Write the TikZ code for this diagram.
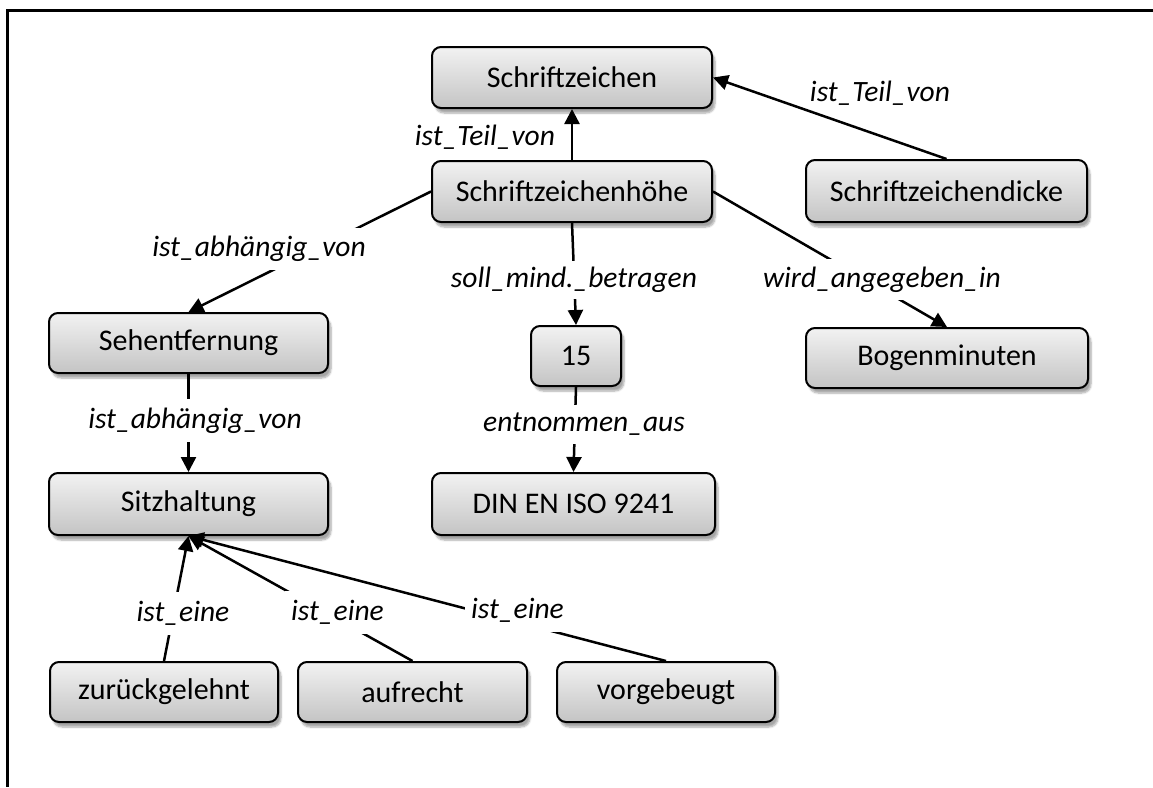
\documentclass[tikz,border=0pt]{standalone}
\usepackage{fontspec}
\setmainfont{Carlito}
\usetikzlibrary{arrows.meta,shadows.blur}
\definecolor{boxtop}{RGB}{242,242,242}
\definecolor{boxbottom}{RGB}{196,196,196}
\begin{document}
\begin{tikzpicture}[x=1pt,y=-1pt,
  concept/.style={draw=black, line width=2pt, rounded corners=9pt,
    top color=boxtop, bottom color=boxbottom,
    blur shadow={shadow xshift=3pt, shadow yshift=-5pt, shadow opacity=35, shadow blur steps=6},
    inner sep=0pt, font=\fontsize{30}{35}\selectfont},
  linkphrase/.style={fill=white, inner sep=0pt, font=\fontsize{29.5}{35}\selectfont\itshape},
  link/.style={line width=2.5pt},
  arr/.style={link, -{Triangle[length=15pt,width=15pt]}}
]
\useasboundingbox (0,0) rectangle (1153,787);

% outer frame (top and left edges only)
\draw[line width=3pt] (1153,10) -- (7,10) -- (7,787);

% concepts
\node[concept, minimum width=280pt, minimum height=61pt] (schrift) at (572,77.5) {Schriftzeichen};
\node[concept, minimum width=280pt, minimum height=61pt] (hoehe) at (572,191.5) {Schriftzeichenhöhe};
\node[concept, minimum width=281pt, minimum height=62pt] (dicke) at (946.5,191) {Schriftzeichendicke};
\node[concept, minimum width=279pt, minimum height=60pt] (sehen) at (188.5,343) {Sehentfernung};
\node[concept, minimum width=90pt, minimum height=60pt] (fuenfzehn) at (576,356) {15};
\node[concept, minimum width=282pt, minimum height=60pt] (bogen) at (947,358) {Bogenminuten};
\node[concept, minimum width=283pt, minimum height=62pt] (din) at (573.5,504) {DIN EN ISO 9241};
\node[concept, minimum width=279pt, minimum height=62pt] (sitz) at (188.5,504) {Sitzhaltung};
\node[concept, minimum width=228pt, minimum height=60pt] (zurueck) at (164,692) {zurückgelehnt};
\node[concept, minimum width=229pt, minimum height=60pt] (auf) at (412.5,692) {aufrecht};
\node[concept, minimum width=218pt, minimum height=60pt] (vor) at (666,692) {vorgebeugt};

% connectors
\draw[arr] (hoehe.north) -- (schrift.south);
\draw[arr] (dicke.north) -- (schrift.east);
\draw[arr] (hoehe.west) -- (sehen.north);
\draw[arr] (hoehe.south) -- (fuenfzehn.north);
\draw[arr] (hoehe.east) -- (bogen.north);
\draw[arr] (fuenfzehn.south) -- (din.north);
\draw[arr] (sehen.south) -- (sitz.north);
\draw[arr] (zurueck.north) -- (sitz.south);
\draw[arr] (auf.north) -- (sitz.south);
\draw[arr] (vor.north) -- (sitz.south);

% linking phrases
\node[linkphrase] (lteilA) at (485,137) {ist\_Teil\_von};
\node[linkphrase] (lteilB) at (880,93) {ist\_Teil\_von};
\node[linkphrase, minimum width=218pt, minimum height=42pt] (labhA) at (259,249) {ist\_abhängig\_von};
\node[linkphrase, minimum width=258pt, minimum height=38pt] (lsoll) at (574,280) {soll\_mind.\_betragen};
\node[linkphrase, minimum width=260pt, minimum height=41pt] (lwird) at (882,279.5) {wird\_angegeben\_in};
\node[linkphrase, minimum width=212pt, minimum height=39pt] (lentn) at (584,424.5) {entnommen\_aus};
\node[linkphrase, minimum width=230pt, minimum height=43pt] (labhB) at (195,420.5) {ist\_abhängig\_von};
\node[linkphrase, minimum width=86pt, minimum height=43pt] (leineA) at (183,613.5) {ist\_eine};
\node[linkphrase, minimum width=105pt, minimum height=43pt] (leineB) at (337.5,612.5) {ist\_eine};
\node[linkphrase, minimum width=105pt, minimum height=43pt] (leineC) at (517.5,610.5) {ist\_eine};
\end{tikzpicture}
\end{document}
